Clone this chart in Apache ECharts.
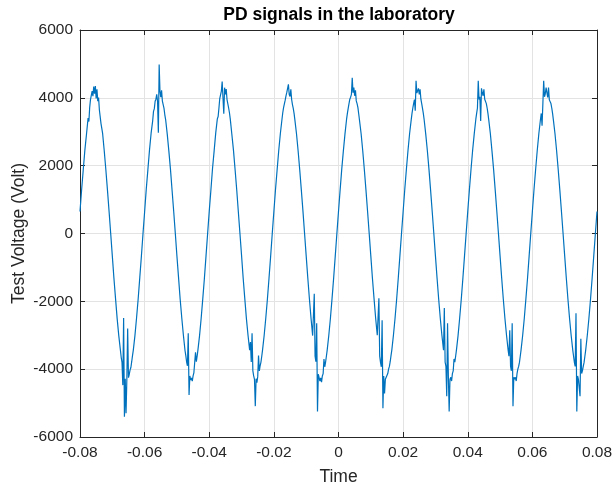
<!DOCTYPE html>
<html>
<head>
<meta charset="utf-8">
<script src="https://cdn.jsdelivr.net/npm/echarts@6/dist/echarts.min.js"></script>
<style>
html,body{margin:0;padding:0;background:#fff;}
#chart{width:612px;height:488px;}
</style>
</head>
<body>
<div id="chart"></div>
<script>
// ---- data: time in ms, voltage in V; one pair of arrays per 20 ms cycle ----
const time1 = [-80,-79.5,-79,-78.5,-78,-77.5,-77.25,-77,-76.75,-76.5,-76.25,-76,-75.75,-75.5,-75.25,-75,-74.75,-74.5,-74.25,-74,-73.75,-73.5,-73,-72.5,-72,-71.5,-71,-70.5,-70,-69.5,-69,-68.5,-68,-67.5,-67.25,-67,-66.75,-66.5,-66.25,-66,-65.75,-65.5,-65.25,-65,-64.75,-64.5,-64.25,-64,-63.75,-63.5,-63,-62.5,-62,-61.5,-61,-60.5];
const volt1 = [650,1290,1870,2450,2920,3400,3300,3720,3950,3900,4200,4050,4330,4120,4350,3980,4250,3900,4010,3640,3600,3240,2950,2440,1880,1280,650,0,-660,-1320,-1920,-2510,-3010,-3060,-3650,-3800,-4470,-2490,-5400,-4280,-5300,-4300,-2800,-4250,-4150,-4020,-3950,-3780,-3600,-3440,-3010,-2490,-1930,-1300,-670,0];
const time2 = [-60,-59.5,-59,-58.5,-58,-57.5,-57.25,-57,-56.75,-56.5,-56.25,-56,-55.75,-55.5,-55.25,-55,-54.75,-54.5,-54.25,-54,-53.75,-53.5,-53,-52.5,-52,-51.5,-51,-50.5,-50,-49.5,-49,-48.5,-48,-47.5,-47.25,-47,-46.75,-46.5,-46.25,-46,-45.75,-45.5,-45.25,-45,-44.75,-44.5,-44.25,-44,-43.75,-43.5,-43,-42.5,-42,-41.5,-41,-40.5];
const volt2 = [640,1300,1870,2450,2950,3330,3600,3680,3900,3960,4100,3900,2970,4980,4200,4020,4220,3900,3880,3690,3500,3360,2930,2430,1890,1270,650,0,-670,-1300,-1940,-2490,-3000,-3450,-3600,-3790,-3900,-2940,-4760,-4200,-4320,-4260,-4350,-4200,-4100,-4050,-3500,-3780,-3620,-3430,-3010,-2500,-1920,-1320,-660,0];
const time3 = [-40,-39.5,-39,-38.5,-38,-37.5,-37.25,-37,-36.75,-36.5,-36.25,-36,-35.75,-35.5,-35.25,-35,-34.75,-34.5,-34.25,-34,-33.75,-33.5,-33,-32.5,-32,-31.5,-31,-30.5,-30,-29.5,-29,-28.5,-28,-27.5,-27.25,-27,-26.75,-26.5,-26.25,-26,-25.75,-25.5,-25.25,-25,-24.75,-24.5,-24.25,-24,-23.75,-23.5,-23,-22.5,-22,-21.5,-21,-20.5];
const volt3 = [660,1270,1900,2420,2960,3380,3450,3700,3980,3940,4200,4480,4000,3530,4300,4100,4260,3950,3900,3700,3560,3380,2920,2450,1880,1290,640,0,-650,-1320,-1920,-2510,-3000,-3440,-3200,-3790,-2940,-4050,-4200,-4300,-5090,-4280,-4400,-4220,-3600,-4050,-3900,-3790,-3620,-3430,-3000,-2490,-1930,-1310,-670,0];
const time4 = [-20,-19.5,-19,-18.5,-18,-17.5,-17.25,-17,-16.75,-16.5,-16.25,-16,-15.75,-15.5,-15.25,-15,-14.75,-14.5,-14.25,-14,-13.75,-13.5,-13,-12.5,-12,-11.5,-11,-10.5,-10,-9.5,-9,-8.5,-8,-7.5,-7.25,-7,-6.75,-6.5,-6.25,-6,-5.75,-5.5,-5.25,-5,-4.75,-4.5,-4.25,-4,-3.75,-3.5,-3,-2.5,-2,-1.5,-1,-0.5];
const volt4 = [650,1290,1870,2440,2940,3360,3560,3710,3820,3930,4060,4160,4280,4400,4100,4040,4250,3950,3800,3690,3540,3350,2940,2440,1880,1280,660,0,-660,-1310,-1930,-2500,-3010,-1780,-3620,-3780,-2650,-5250,-4150,-4200,-4350,-4260,-4380,-4200,-4130,-3700,-3930,-3790,-3620,-3440,-3000,-2500,-1920,-1310,-660,0];
const time5 = [0,0.5,1,1.5,2,2.5,2.75,3,3.25,3.5,3.75,4,4.25,4.5,4.75,5,5.25,5.5,5.75,6,6.25,6.5,7,7.5,8,8.5,9,9.5,10,10.5,11,11.5,12,12.5,12.75,13,13.25,13.5,13.75,14,14.25,14.5,14.75,15,15.25,15.5,15.75,16,16.25,16.5,17,17.5,18,18.5,19,19.5];
const volt5 = [650,1280,1890,2430,2930,3370,3540,3690,3830,3960,4020,4100,4590,4150,4300,4060,4220,3910,3830,3720,3530,3340,2940,2440,1880,1280,650,0,-660,-1320,-1920,-2500,-3000,-1910,-3620,-3800,-3930,-2560,-5150,-4200,-4720,-4300,-4250,-4350,-4130,-4000,-3920,-3780,-3600,-3440,-3000,-2500,-1930,-1310,-660,0];
const time6 = [20,20.5,21,21.5,22,22.5,22.75,23,23.25,23.5,23.75,24,24.25,24.5,24.75,25,25.25,25.5,25.75,26,26.25,26.5,27,27.5,28,28.5,29,29.5,30,30.5,31,31.5,32,32.5,32.75,33,33.25,33.5,33.75,34,34.25,34.5,34.75,35,35.25,35.5,35.75,36,36.25,36.5,37,37.5,38,38.5,39,39.5];
const volt6 = [640,1290,1880,2440,2940,3350,3540,3700,3830,3950,3620,4500,4140,4100,4280,4100,4250,3960,3830,3690,3540,3360,2930,2440,1890,1280,650,0,-660,-1310,-1930,-2500,-3000,-3440,-2200,-3790,-3920,-4800,-2650,-4200,-5250,-4300,-4240,-4350,-4130,-4050,-3700,-3790,-3620,-3440,-3010,-2490,-1930,-1310,-660,0];
const time7 = [40,40.5,41,41.5,42,42.5,42.75,43,43.25,43.5,43.75,44,44.25,44.5,44.75,45,45.25,45.5,45.75,46,46.25,46.5,47,47.5,48,48.5,49,49.5,50,50.5,51,51.5,52,52.5,52.75,53,53.25,53.5,53.75,54,54.25,54.5,54.75,55,55.25,55.5,55.75,56,56.25,56.5,57,57.5,58,58.5,59,59.5];
const volt7 = [650,1280,1880,2440,2930,3370,3540,3700,4500,3950,4030,3320,4280,4150,4060,4250,3960,3950,3830,3700,3540,3350,2940,2430,1890,1280,650,0,-660,-1310,-1930,-2500,-3000,-3440,-3620,-2850,-3920,-4050,-2650,-5090,-4240,-4300,-4240,-4350,-4130,-4000,-3920,-3800,-3620,-3430,-3000,-2500,-1920,-1320,-660,0];
const time8 = [60,60.5,61,61.5,62,62.5,62.75,63,63.25,63.5,63.75,64,64.25,64.5,64.75,65,65.25,65.5,65.75,66,66.25,66.5,67,67.5,68,68.5,69,69.5,70,70.5,71,71.5,72,72.5,72.75,73,73.25,73.5,73.75,74,74.25,74.5,74.75,75,75.25,75.5,75.75,76,76.25,76.5,77,77.5,78,78.5,79,79.5,80];
const volt8 = [650,1290,1880,2440,2940,3360,3540,3180,3830,4500,4030,4120,4300,4150,4010,4300,3940,3950,3830,3700,3540,3350,2940,2440,1880,1280,650,0,-660,-1310,-1930,-2500,-3000,-3440,-3620,-3800,-3920,-2350,-5250,-4200,-4300,-4250,-4800,-3100,-4130,-4040,-3920,-3800,-3620,-3440,-3000,-2500,-1930,-1310,-660,0,650];

// axis ticks (x in ms) and their printed labels (in s)
const xTicks = [-80,-60,-40,-20,0,20,40,60,80];
const xTickLabels = ['-0.08','-0.06','-0.04','-0.02','0','0.02','0.04','0.06','0.08'];
const yTicks = [-6000,-4000,-2000,0,2000,4000,6000];
const yTickLabels = ['-6000','-4000','-2000','0','2000','4000','6000'];

const titleText = 'PD signals in the laboratory';
const xName = 'Time';
const yName = 'Test Voltage (Volt)';

// ---- build series data ----
const times = [time1,time2,time3,time4,time5,time6,time7,time8];
const volts = [volt1,volt2,volt3,volt4,volt5,volt6,volt7,volt8];
const seriesData = [];
for (let c = 0; c < times.length; c++) {
  const n = Math.min(times[c].length, volts[c].length);
  for (let i = 0; i < n; i++) seriesData.push([times[c][i], volts[c][i]]);
}

function nearestLabel(v, ticks, labels) {
  let best = 0;
  for (let i = 1; i < ticks.length; i++) if (Math.abs(ticks[i]-v) < Math.abs(ticks[best]-v)) best = i;
  return labels[best];
}

const FONT = '"Liberation Sans", Arial, Helvetica, sans-serif';
const AX = '#262626';
const GRIDC = '#e3e3e3';

const chart = echarts.init(document.getElementById('chart'), null, {renderer:'canvas'});
const xStep = xTicks[1]-xTicks[0];
const yStep = yTicks[1]-yTicks[0];

chart.setOption({
  animation:false,
  backgroundColor:'#ffffff',
  title:{
    text:titleText, left:339, top:6, textAlign:'center', padding:0,
    textStyle:{fontFamily:FONT, fontSize:17.5, fontWeight:'bold', color:'#000'}
  },
  grid:{left:80, right:15, top:30, bottom:51, containLabel:false, outerBoundsMode:'none'},
  xAxis:[{
    type:'value', min:xTicks[0], max:xTicks[xTicks.length-1], interval:xStep,
    position:'bottom',
    name:xName, nameLocation:'middle', nameGap:31,
    nameTextStyle:{fontFamily:FONT, fontSize:17.5, color:AX},
    axisLine:{show:true, onZero:false, lineStyle:{color:AX, width:1}},
    axisTick:{show:true, inside:true, length:5, lineStyle:{color:AX}},
    axisLabel:{fontFamily:FONT, fontSize:15.5, color:AX, margin:8,
      formatter:v=>nearestLabel(v, xTicks, xTickLabels)},
    splitLine:{show:true, lineStyle:{color:GRIDC, width:1}}
  },{
    type:'value', min:xTicks[0], max:xTicks[xTicks.length-1], interval:xStep,
    position:'top',
    axisLine:{show:true, onZero:false, lineStyle:{color:AX, width:1}},
    axisTick:{show:true, inside:true, length:5, lineStyle:{color:AX}},
    axisLabel:{show:false}, splitLine:{show:false}
  }],
  yAxis:[{
    type:'value', min:yTicks[0], max:yTicks[yTicks.length-1], interval:yStep,
    position:'left',
    name:yName, nameLocation:'middle', nameGap:52, nameRotate:90, nameMoveOverlap:false,
    nameTextStyle:{fontFamily:FONT, fontSize:17.5, color:AX},
    axisLine:{show:true, onZero:false, lineStyle:{color:AX, width:1}},
    axisTick:{show:true, inside:true, length:5, lineStyle:{color:AX}},
    axisLabel:{fontFamily:FONT, fontSize:15.5, color:AX, margin:7,
      formatter:v=>nearestLabel(v, yTicks, yTickLabels)},
    splitLine:{show:true, lineStyle:{color:GRIDC, width:1}}
  },{
    type:'value', min:yTicks[0], max:yTicks[yTicks.length-1], interval:yStep,
    position:'right',
    axisLine:{show:true, onZero:false, lineStyle:{color:AX, width:1}},
    axisTick:{show:true, inside:true, length:5, lineStyle:{color:AX}},
    axisLabel:{show:false}, splitLine:{show:false}
  }],
  series:[{
    type:'line', xAxisIndex:0, yAxisIndex:0,
    data:seriesData, showSymbol:false, symbol:'none',
    lineStyle:{color:'#0072BD', width:1.2},
    z:3
  }]
});
</script>
</body>
</html>
